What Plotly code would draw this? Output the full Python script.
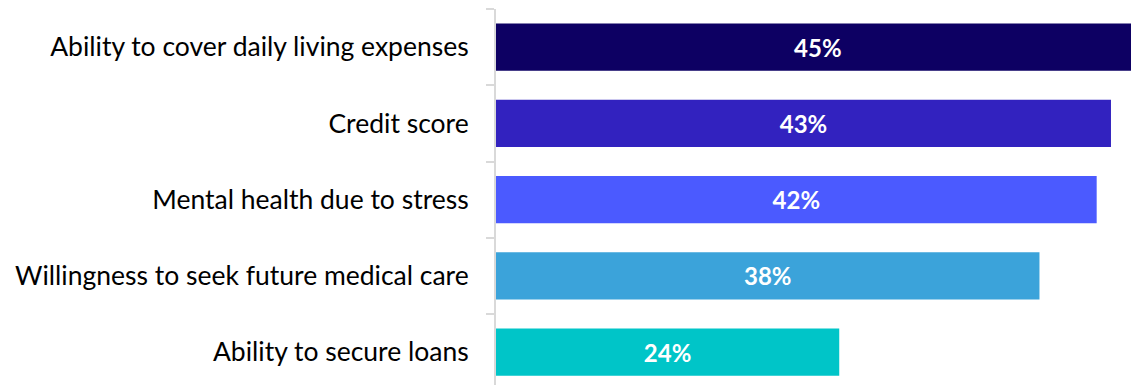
import plotly.graph_objects as go

categories = [
    "Ability to cover daily living expenses",
    "Credit score",
    "Mental health due to stress",
    "Willingness to seek future medical care",
    "Ability to secure loans",
]
values = [45, 43, 42, 38, 24]
bar_labels = ["45%", "43%", "42%", "38%", "24%"]
colors = ["#0D0063", "#3222BF", "#4B5AFF", "#3BA3DA", "#00C5C8"]

fig = go.Figure(
    go.Bar(
        x=values,
        y=categories,
        orientation="h",
        marker=dict(color=colors, line=dict(width=0)),
        text=bar_labels,
        textposition="inside",
        insidetextanchor="middle",
        textfont=dict(family="Lato", size=24, color="white", weight="bold"),
        cliponaxis=True,
    )
)

fig.update_layout(
    width=1131,
    height=385,
    margin=dict(l=496, r=0, t=9, b=0),
    paper_bgcolor="white",
    plot_bgcolor="white",
    bargap=0.38,
    showlegend=False,
    uniformtext=dict(mode=False),
)
fig.update_xaxes(
    range=[0, 44.4],
    visible=False,
    showgrid=False,
    zeroline=False,
)
fig.update_yaxes(
    type="category",
    autorange=False,
    range=[4.43, -0.5],
    showline=True,
    linecolor="#D9D9D9",
    linewidth=2,
    ticks="outside",
    tickson="boundaries",
    ticklen=8,
    tickwidth=2,
    tickcolor="#D9D9D9",
    ticklabelstandoff=20,
    tickfont=dict(family="Lato", size=26.5, color="#000000"),
    showgrid=False,
    zeroline=False,
)

fig.write_html("out.html")
